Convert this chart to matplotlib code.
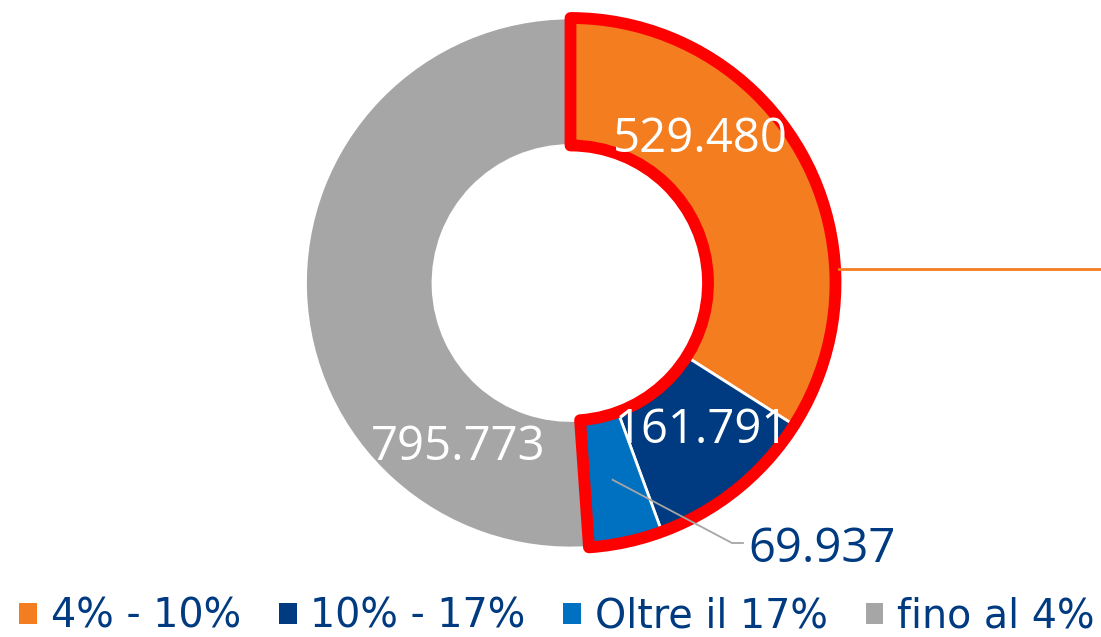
import numpy as np
import matplotlib
matplotlib.use("Agg")
import matplotlib.pyplot as plt
from matplotlib.patches import Wedge

# data
categories = ["4% - 10%", "10% - 17%", "Oltre il 17%", "fino al 4%"]
values = [529480, 161791, 69937, 795773]
value_labels = ["529.480", "161.791", "69.937", "795.773"]
colors = ["#F47D20", "#003A80", "#0070C0", "#A6A6A6"]

W, H = 1101, 637
CX, CY = 570.5, H - 283
R_OUT, R_IN = 265, 137.5
TEXT_BLUE = "#003A80"

fig = plt.figure(figsize=(W / 100, H / 100), dpi=100)
ax = fig.add_axes([0, 0, 1, 1])

wedges, _ = ax.pie(
    values,
    colors=colors,
    startangle=90,
    counterclock=False,
    radius=R_OUT,
    center=(CX, CY),
    wedgeprops=dict(width=R_OUT - R_IN, edgecolor="white", linewidth=2),
)

# red outline around the first three slices
total = sum(values)
frac3 = sum(values[:3]) / total
outline = Wedge(
    (CX, CY), R_OUT, 90 - 360 * frac3, 90, width=R_OUT - R_IN,
    fill=False, edgecolor="#FF0000", linewidth=8.5, joinstyle="round",
)
ax.add_patch(outline)

# orange callout line to the right
ang = np.deg2rad(3)
y_line = CY + R_OUT * np.sin(ang)
ax.plot([CX + R_OUT * np.cos(ang) + 4, W], [y_line, y_line],
        color=colors[0], linewidth=2, zorder=1)

# leader line for the small slice
start_deg = 90 - 360 * sum(values[:2]) / total
end_deg = 90 - 360 * sum(values[:3]) / total
mid = np.deg2rad((start_deg + end_deg) / 2)
r_mid = (R_OUT + R_IN) / 2
p0 = (CX + r_mid * np.cos(mid), CY + r_mid * np.sin(mid))
ax.plot([p0[0], 732, 743], [p0[1], H - 543, H - 543],
        color="#A6A6A6", linewidth=1.3, zorder=3)

label_font = dict(family="Open Sans", fontsize=34, ha="center", va="baseline")
ax.text(700, H - 152, value_labels[0], color="white", zorder=5, **label_font)
ax.text(702, H - 443, value_labels[1], color="white", zorder=5, **label_font)
ax.text(822, H - 562, value_labels[2], color=TEXT_BLUE, zorder=5, **label_font)
ax.text(458, H - 460, value_labels[3], color="white", zorder=5, **label_font)

ax.set_xlim(0, W)
ax.set_ylim(0, H)
ax.set_aspect("equal")
ax.axis("off")

leg = fig.legend(
    wedges, categories,
    loc="lower center", bbox_to_anchor=(0.506, -0.03), ncol=4,
    frameon=False, prop=dict(family="DejaVu Sans", size=28.5),
    handlelength=0.45, handleheight=0.45, handletextpad=0.35,
    columnspacing=0.95, borderpad=0.0,
)
for t in leg.get_texts():
    t.set_color(TEXT_BLUE)
for h in leg.legend_handles:
    h.set_edgecolor("none")

fig.savefig("out.png", dpi=100)
